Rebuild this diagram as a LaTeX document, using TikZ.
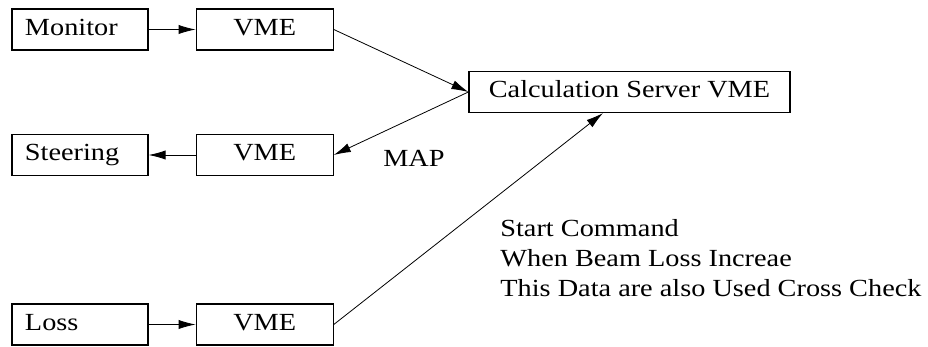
\documentclass[tikz,border=0pt]{standalone}
\usepackage{fontspec}
\setmainfont{Liberation Serif}[FakeStretch=1.15]
\usetikzlibrary{positioning,arrows.meta}
\begin{document}
\begin{tikzpicture}[-{Latex[length=8.5pt,width=4.6pt]},x=0.5pt,y=-0.5pt,node distance=23.5pt,thin,
    font=\fontsize{12.3}{15}\selectfont,
    box/.style={draw,line width=0.6pt,minimum height=20.5pt,inner sep=0pt,text height=8pt,text depth=2pt},
    dev node/.style={box,minimum width=68pt,text width=55pt,align=left},
    vme node/.style={box,minimum width=68.5pt}]
    \useasboundingbox (0,0) rectangle (928,347);
    \node[dev node] (mon) at (80,29.5) {Monitor};
    \node[vme node] (vme1) [right=of mon] {VME};
    \node[dev node] (steer) at (80,155) {Steering};
    \node[vme node] (vme2) [right=of steer] {VME};
    \node[dev node] (loss) at (80,324.5) {Loss};
    \node[vme node] (vme3) [right=of loss] {VME};
    \node[box,minimum width=160.5pt] (srv) at (629.5,92) {Calculation Server VME};
    \node[inner sep=0pt] (map) at (414,158) {MAP};
    \node[inner sep=0pt,anchor=west,align=left] (note) at (500,258)
        {Start Command\\When Beam Loss Increae\\This Data are also Used Cross Check};
    \path (mon) edge (vme1)
          (vme1.east) edge (srv.west)
          (srv.west) edge (vme2.east)
          (vme2) edge (steer)
          (loss) edge (vme3)
          (vme3.east) edge ([xshift=-13.25pt]srv.south);
\end{tikzpicture}
\end{document}
